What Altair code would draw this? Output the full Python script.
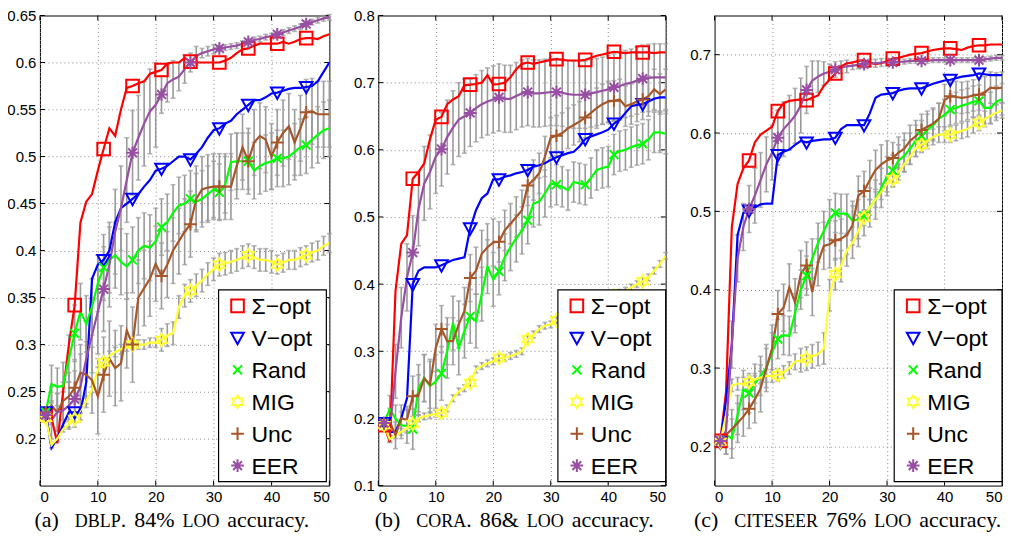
import altair as alt
import pandas as pd

X = list(range(1, 51))
METHODS = ["Σ−opt", "V−opt", "Rand", "MIG", "Unc", "EER"]
COLORS = ["#FF0000", "#0000FF", "#00FF00", "#FFFF33", "#A65628", "#984EA3"]
SHAPES = [
    "M-1,-1L1,-1L1,1L-1,1Z",
    "M-1,-0.8L1,-0.8L0,1Z",
    "M-0.7,-0.7L0.7,0.7M-0.7,0.7L0.7,-0.7",
    "M0,-1L0.289,-0.5L0.866,-0.5L0.577,0L0.866,0.5L0.289,0.5L0,1L-0.289,0.5L-0.866,0.5L-0.577,0L-0.866,-0.5L-0.289,-0.5Z",
    "M-1,0L1,0M0,-1L0,1",
    "M-1,0L1,0M0,-1L0,1M-0.7,-0.7L0.7,0.7M-0.7,0.7L0.7,-0.7",
]
X_TICKS = [0, 10, 20, 30, 40, 50]

# ---------------- panel (a) DBLP ----------------
a_sigma = [0.225, 0.222, 0.195, 0.25, 0.30, 0.342, 0.43, 0.452, 0.46, 0.485,
           0.508, 0.53, 0.522, 0.55, 0.573, 0.575, 0.578, 0.58, 0.588, 0.59,
           0.592, 0.599, 0.60, 0.60, 0.605, 0.601, 0.60, 0.60, 0.60, 0.60,
           0.60, 0.602, 0.605, 0.61, 0.614, 0.615, 0.618, 0.62, 0.62, 0.62,
           0.62, 0.622, 0.62, 0.622, 0.625, 0.626, 0.626, 0.625, 0.628, 0.63]
a_vopt = [0.228, 0.19, 0.20, 0.215, 0.228, 0.228, 0.228, 0.26, 0.37, 0.385,
          0.39, 0.40, 0.43, 0.445, 0.45, 0.455, 0.46, 0.468, 0.475, 0.485,
          0.487, 0.49, 0.495, 0.50, 0.50, 0.497, 0.503, 0.51, 0.52, 0.528,
          0.53, 0.535, 0.538, 0.545, 0.55, 0.555, 0.56, 0.56, 0.563, 0.567,
          0.568, 0.57, 0.572, 0.573, 0.573, 0.574, 0.575, 0.58, 0.59, 0.60]
a_rand = [0.228, 0.258, 0.255, 0.256, 0.285, 0.312, 0.335, 0.322, 0.34, 0.365,
          0.382, 0.39, 0.395, 0.388, 0.383, 0.39, 0.40, 0.405, 0.403, 0.41,
          0.425, 0.43, 0.44, 0.448, 0.45, 0.455, 0.452, 0.455, 0.46, 0.465,
          0.462, 0.47, 0.494, 0.495, 0.495, 0.495, 0.485, 0.49, 0.493, 0.495,
          0.498, 0.498, 0.50, 0.505, 0.51, 0.512, 0.518, 0.523, 0.528, 0.53]
a_mig = [0.222, 0.193, 0.20, 0.21, 0.215, 0.221, 0.23, 0.24, 0.252, 0.273,
         0.281, 0.288, 0.292, 0.295, 0.298, 0.30, 0.30, 0.30, 0.302, 0.302,
         0.305, 0.31, 0.312, 0.34, 0.352, 0.357, 0.363, 0.368, 0.375, 0.38,
         0.385, 0.386, 0.388, 0.39, 0.393, 0.395, 0.393, 0.39, 0.39, 0.388,
         0.385, 0.387, 0.39, 0.39, 0.393, 0.395, 0.398, 0.40, 0.405, 0.408]
a_unc = [0.228, 0.235, 0.228, 0.24, 0.245, 0.254, 0.27, 0.268, 0.262, 0.245,
         0.268, 0.285, 0.275, 0.28, 0.315, 0.30, 0.35, 0.36, 0.37, 0.386,
         0.373, 0.385, 0.40, 0.41, 0.42, 0.428, 0.455, 0.465, 0.467, 0.468,
         0.468, 0.468, 0.468, 0.49, 0.51, 0.495, 0.515, 0.522, 0.518, 0.50,
         0.515, 0.525, 0.532, 0.515, 0.53, 0.547, 0.548, 0.545, 0.545, 0.545]
a_eer = [0.225, 0.22, 0.228, 0.23, 0.235, 0.242, 0.255, 0.285, 0.31, 0.335,
         0.359, 0.385, 0.42, 0.445, 0.475, 0.504, 0.52, 0.535, 0.548, 0.555,
         0.566, 0.578, 0.582, 0.585, 0.593, 0.60, 0.607, 0.61, 0.612, 0.614,
         0.615, 0.616, 0.617, 0.618, 0.62, 0.622, 0.624, 0.625, 0.627, 0.628,
         0.63, 0.632, 0.634, 0.636, 0.638, 0.641, 0.643, 0.645, 0.647, 0.648]
a_err_rand = [0.005, 0.02, 0.02, 0.025, 0.025, 0.03, 0.03, 0.03, 0.03, 0.03,
              0.035, 0.035, 0.035, 0.035, 0.035, 0.035, 0.035, 0.035, 0.035, 0.035,
              0.03, 0.03, 0.03, 0.03, 0.03, 0.03, 0.03, 0.03, 0.03, 0.03,
              0.03, 0.03, 0.03, 0.03, 0.03, 0.03, 0.03, 0.03, 0.03, 0.03,
              0.03, 0.03, 0.03, 0.03, 0.03, 0.03, 0.03, 0.03, 0.03, 0.03]
a_err_unc = [0.005, 0.02, 0.02, 0.02, 0.025, 0.03, 0.03, 0.035, 0.035, 0.04,
             0.04, 0.04, 0.04, 0.04, 0.04, 0.04, 0.04, 0.04, 0.04, 0.04,
             0.035, 0.035, 0.035, 0.035, 0.035, 0.035, 0.035, 0.035, 0.035, 0.035,
             0.035, 0.035, 0.035, 0.035, 0.035, 0.035, 0.035, 0.035, 0.035, 0.035,
             0.035, 0.035, 0.035, 0.035, 0.035, 0.035, 0.035, 0.035, 0.035, 0.035]
a_err_mig = [0.003, 0.003, 0.003, 0.003, 0.003, 0.003, 0.003, 0.003, 0.003, 0.003,
             0.005, 0.005, 0.005, 0.005, 0.005, 0.005, 0.005, 0.005, 0.005, 0.005,
             0.012, 0.012, 0.012, 0.012, 0.012, 0.012, 0.012, 0.012, 0.012, 0.012,
             0.012, 0.012, 0.012, 0.012, 0.012, 0.012, 0.012, 0.012, 0.012, 0.012,
             0.01, 0.01, 0.01, 0.01, 0.01, 0.01, 0.01, 0.01, 0.01, 0.01]
a_err_eer = [0.005, 0.02, 0.02, 0.02, 0.025, 0.03, 0.035, 0.04, 0.04, 0.045,
             0.045, 0.045, 0.045, 0.045, 0.045, 0.045, 0.045, 0.045, 0.045, 0.045,
             0.02, 0.02, 0.02, 0.015, 0.015, 0.01, 0.01, 0.005, 0.005, 0.005,
             0.003, 0.003, 0.003, 0.003, 0.003, 0.003, 0.003, 0.003, 0.003, 0.003,
             0.003, 0.003, 0.003, 0.003, 0.003, 0.003, 0.003, 0.003, 0.003, 0.003]

# ---------------- panel (b) CORA ----------------
b_sigma = [0.19, 0.165, 0.39, 0.46, 0.473, 0.557, 0.567, 0.58, 0.616, 0.645,
           0.649, 0.668, 0.675, 0.68, 0.696, 0.697, 0.698, 0.70, 0.711, 0.697,
           0.698, 0.70, 0.708, 0.72, 0.728, 0.73, 0.728, 0.73, 0.732, 0.734,
           0.735, 0.734, 0.733, 0.733, 0.733, 0.734, 0.737, 0.74, 0.742, 0.744,
           0.746, 0.745, 0.744, 0.745, 0.745, 0.745, 0.745, 0.744, 0.745, 0.745]
b_vopt = [0.193, 0.18, 0.18, 0.20, 0.23, 0.40, 0.42, 0.425, 0.425, 0.425,
          0.428, 0.432, 0.436, 0.438, 0.44, 0.483, 0.51, 0.528, 0.535, 0.556,
          0.556, 0.56, 0.562, 0.565, 0.567, 0.57, 0.575, 0.577, 0.58, 0.585,
          0.589, 0.592, 0.595, 0.597, 0.605, 0.616, 0.62, 0.623, 0.626, 0.63,
          0.639, 0.645, 0.655, 0.665, 0.667, 0.668, 0.672, 0.676, 0.678, 0.678]
b_rand = [0.193, 0.214, 0.20, 0.19, 0.188, 0.184, 0.245, 0.26, 0.248, 0.255,
          0.267, 0.30, 0.342, 0.305, 0.33, 0.352, 0.345, 0.385, 0.426, 0.407,
          0.419, 0.44, 0.455, 0.468, 0.48, 0.495, 0.52, 0.523, 0.535, 0.55,
          0.548, 0.545, 0.54, 0.552, 0.55, 0.548, 0.558, 0.57, 0.573, 0.575,
          0.593, 0.598, 0.60, 0.604, 0.607, 0.609, 0.615, 0.626, 0.626, 0.624]
b_mig = [0.19, 0.169, 0.175, 0.18, 0.185, 0.192, 0.20, 0.203, 0.205, 0.207,
         0.208, 0.215, 0.23, 0.24, 0.245, 0.253, 0.273, 0.278, 0.282, 0.285,
         0.29, 0.29, 0.293, 0.296, 0.30, 0.318, 0.325, 0.333, 0.338, 0.34,
         0.346, 0.35, 0.352, 0.355, 0.36, 0.365, 0.368, 0.372, 0.375, 0.38,
         0.383, 0.387, 0.39, 0.395, 0.40, 0.404, 0.41, 0.42, 0.43, 0.442]
b_unc = [0.193, 0.195, 0.175, 0.20, 0.198, 0.233, 0.235, 0.26, 0.25, 0.305,
         0.333, 0.315, 0.315, 0.34, 0.36, 0.409, 0.42, 0.445, 0.455, 0.462,
         0.463, 0.48, 0.49, 0.50, 0.51, 0.547, 0.555, 0.565, 0.59, 0.618,
         0.621, 0.625, 0.632, 0.637, 0.642, 0.648, 0.655, 0.662, 0.668, 0.672,
         0.673, 0.675, 0.665, 0.668, 0.672, 0.675, 0.68, 0.69, 0.683, 0.69]
b_eer = [0.193, 0.18, 0.27, 0.35, 0.41, 0.447, 0.512, 0.55, 0.567, 0.59,
         0.601, 0.619, 0.633, 0.645, 0.65, 0.655, 0.662, 0.668, 0.672, 0.675,
         0.678, 0.676, 0.676, 0.68, 0.684, 0.686, 0.684, 0.684, 0.685, 0.686,
         0.686, 0.685, 0.683, 0.682, 0.682, 0.682, 0.684, 0.686, 0.688, 0.69,
         0.693, 0.695, 0.698, 0.70, 0.703, 0.706, 0.707, 0.708, 0.708, 0.708]
b_err_rand = [0.005, 0.02, 0.02, 0.02, 0.025, 0.03, 0.035, 0.035, 0.04, 0.04,
              0.04, 0.04, 0.04, 0.04, 0.04, 0.04, 0.04, 0.04, 0.04, 0.04,
              0.035, 0.035, 0.035, 0.035, 0.035, 0.035, 0.035, 0.035, 0.035, 0.035,
              0.03, 0.03, 0.03, 0.03, 0.03, 0.03, 0.03, 0.03, 0.03, 0.03,
              0.03, 0.03, 0.03, 0.03, 0.03, 0.03, 0.03, 0.03, 0.03, 0.03]
b_err_unc = [0.005, 0.02, 0.02, 0.02, 0.02, 0.03, 0.03, 0.035, 0.035, 0.035,
             0.035, 0.035, 0.035, 0.035, 0.035, 0.035, 0.035, 0.035, 0.035, 0.035,
             0.03, 0.03, 0.03, 0.03, 0.03, 0.03, 0.03, 0.03, 0.03, 0.03,
             0.03, 0.03, 0.03, 0.03, 0.03, 0.03, 0.03, 0.03, 0.03, 0.03,
             0.03, 0.03, 0.03, 0.03, 0.03, 0.03, 0.03, 0.03, 0.03, 0.03]
b_err_mig = [0.005, 0.005, 0.005, 0.005, 0.005, 0.005, 0.005, 0.005, 0.005, 0.005,
             0.005, 0.005, 0.005, 0.005, 0.005, 0.005, 0.005, 0.005, 0.005, 0.005,
             0.005, 0.005, 0.005, 0.005, 0.005, 0.005, 0.005, 0.005, 0.005, 0.005,
             0.005, 0.005, 0.005, 0.005, 0.005, 0.005, 0.005, 0.005, 0.005, 0.005,
             0.005, 0.005, 0.005, 0.005, 0.005, 0.005, 0.005, 0.005, 0.005, 0.005]
b_err_eer = [0.005, 0.015, 0.04, 0.045, 0.05, 0.055, 0.055, 0.055, 0.055, 0.055,
             0.055, 0.055, 0.055, 0.055, 0.055, 0.05, 0.05, 0.05, 0.05, 0.05,
             0.05, 0.05, 0.05, 0.05, 0.05, 0.05, 0.05, 0.05, 0.05, 0.05,
             0.05, 0.05, 0.05, 0.05, 0.05, 0.05, 0.05, 0.05, 0.05, 0.05,
             0.05, 0.05, 0.05, 0.05, 0.05, 0.05, 0.05, 0.05, 0.05, 0.05]

# ---------------- panel (c) CITESEER ----------------
c_sigma = [0.207, 0.27, 0.48, 0.535, 0.555, 0.565, 0.588, 0.598, 0.603, 0.608,
           0.628, 0.638, 0.641, 0.642, 0.643, 0.642, 0.645, 0.648, 0.66, 0.668,
           0.676, 0.685, 0.689, 0.69, 0.692, 0.693, 0.69, 0.688, 0.689, 0.692,
           0.695, 0.696, 0.698, 0.70, 0.701, 0.702, 0.704, 0.706, 0.707, 0.708,
           0.708, 0.707, 0.706, 0.709, 0.711, 0.712, 0.712, 0.713, 0.713, 0.713]
c_vopt = [0.205, 0.26, 0.33, 0.47, 0.498, 0.501, 0.505, 0.509, 0.51, 0.51,
          0.572, 0.576, 0.579, 0.585, 0.59, 0.588, 0.59, 0.591, 0.592, 0.592,
          0.594, 0.605, 0.61, 0.61, 0.61, 0.61, 0.625, 0.645, 0.649, 0.65,
          0.651, 0.654, 0.656, 0.657, 0.657, 0.657, 0.66, 0.663, 0.665, 0.667,
          0.668, 0.67, 0.672, 0.673, 0.674, 0.676, 0.675, 0.674, 0.674, 0.674]
c_rand = [0.207, 0.215, 0.21, 0.24, 0.272, 0.268, 0.28, 0.29, 0.30, 0.32,
          0.337, 0.342, 0.341, 0.37, 0.40, 0.418, 0.44, 0.46, 0.475, 0.49,
          0.498, 0.497, 0.497, 0.488, 0.49, 0.494, 0.505, 0.515, 0.53, 0.545,
          0.552, 0.565, 0.571, 0.58, 0.59, 0.596, 0.604, 0.61, 0.618, 0.623,
          0.63, 0.632, 0.635, 0.637, 0.64, 0.641, 0.632, 0.632, 0.64, 0.643]
c_mig = [0.206, 0.24, 0.278, 0.28, 0.28, 0.282, 0.285, 0.288, 0.29, 0.29,
         0.291, 0.295, 0.30, 0.308, 0.31, 0.312, 0.315, 0.318, 0.325, 0.393,
         0.42, 0.43, 0.45, 0.46, 0.475, 0.492, 0.505, 0.515, 0.525, 0.535,
         0.541, 0.55, 0.56, 0.57, 0.58, 0.585, 0.59, 0.595, 0.598, 0.598,
         0.598, 0.60, 0.603, 0.605, 0.61, 0.613, 0.618, 0.622, 0.626, 0.629]
c_unc = [0.207, 0.215, 0.222, 0.23, 0.238, 0.248, 0.26, 0.274, 0.30, 0.325,
         0.369, 0.377, 0.403, 0.384, 0.42, 0.431, 0.397, 0.435, 0.456, 0.458,
         0.463, 0.465, 0.47, 0.482, 0.52, 0.526, 0.54, 0.553, 0.56, 0.565,
         0.568, 0.575, 0.58, 0.59, 0.596, 0.604, 0.608, 0.612, 0.618, 0.642,
         0.647, 0.646, 0.645, 0.646, 0.648, 0.649, 0.652, 0.658, 0.657, 0.658]
c_eer = [0.207, 0.22, 0.33, 0.44, 0.48, 0.503, 0.52, 0.54, 0.56, 0.575,
         0.594, 0.605, 0.613, 0.622, 0.635, 0.655, 0.667, 0.672, 0.676, 0.678,
         0.681, 0.684, 0.685, 0.686, 0.687, 0.688, 0.689, 0.689, 0.69, 0.69,
         0.69, 0.691, 0.691, 0.692, 0.692, 0.692, 0.692, 0.693, 0.693, 0.693,
         0.693, 0.693, 0.693, 0.693, 0.693, 0.693, 0.694, 0.695, 0.696, 0.696]
c_err_rand = [0.008, 0.025, 0.025, 0.025, 0.025, 0.025, 0.025, 0.025, 0.025, 0.025,
              0.025, 0.025, 0.025, 0.025, 0.025, 0.025, 0.025, 0.025, 0.025, 0.025,
              0.025, 0.025, 0.025, 0.025, 0.025, 0.025, 0.025, 0.025, 0.025, 0.025,
              0.02, 0.02, 0.02, 0.02, 0.02, 0.02, 0.02, 0.02, 0.02, 0.02,
              0.02, 0.02, 0.02, 0.02, 0.02, 0.02, 0.02, 0.02, 0.02, 0.02]
c_err_unc = [0.008, 0.025, 0.025, 0.025, 0.025, 0.025, 0.03, 0.03, 0.03, 0.03,
             0.03, 0.03, 0.03, 0.03, 0.03, 0.03, 0.03, 0.03, 0.03, 0.03,
             0.025, 0.025, 0.025, 0.025, 0.025, 0.025, 0.025, 0.025, 0.025, 0.025,
             0.02, 0.02, 0.02, 0.02, 0.02, 0.02, 0.02, 0.02, 0.02, 0.02,
             0.02, 0.02, 0.02, 0.02, 0.02, 0.02, 0.02, 0.02, 0.02, 0.02]
c_err_mig = [0.005, 0.008, 0.008, 0.008, 0.008, 0.008, 0.008, 0.008, 0.008, 0.008,
             0.008, 0.008, 0.008, 0.01, 0.015, 0.015, 0.015, 0.015, 0.02, 0.02,
             0.02, 0.02, 0.02, 0.02, 0.02, 0.01, 0.01, 0.01, 0.01, 0.01,
             0.01, 0.01, 0.01, 0.01, 0.01, 0.01, 0.01, 0.01, 0.01, 0.01,
             0.01, 0.01, 0.01, 0.01, 0.01, 0.01, 0.01, 0.01, 0.01, 0.01]
c_err_eer = [0.008, 0.02, 0.03, 0.03, 0.03, 0.03, 0.035, 0.035, 0.035, 0.035,
             0.035, 0.035, 0.035, 0.035, 0.035, 0.03, 0.025, 0.02, 0.015, 0.01,
             0.01, 0.008, 0.008, 0.005, 0.005, 0.005, 0.005, 0.005, 0.005, 0.005,
             0.003, 0.003, 0.003, 0.003, 0.003, 0.003, 0.003, 0.003, 0.003, 0.003,
             0.003, 0.003, 0.003, 0.003, 0.003, 0.003, 0.003, 0.003, 0.003, 0.003]

CAPTION_A = [("(a)", False), ("DBLP", True), (".", False), ("84%", False), ("LOO", True), ("accuracy.", False)]
CAPTION_B = [("(b)", False), ("CORA", True), (".", False), ("86&", False), ("LOO", True), ("accuracy.", False)]
CAPTION_C = [("(c)", False), ("CITESEER", True), ("76%", False), ("LOO", True), ("accuracy.", False)]

GRAY = "#9a9a9a"
PLOT_H = 471
MAIN_FS = 22
SC_FS = 18

# Times / Liberation Serif advance widths (1/1000 em), for laying out caption pieces
TW = {"(": 333, ")": 333, "a": 444, "b": 500, "c": 444, "u": 500, "r": 333, "y": 500,
      ".": 250, "%": 833, "&": 778, " ": 250, "D": 722, "B": 667, "L": 611, "P": 556,
      "O": 722, "C": 667, "R": 667, "A": 722, "I": 333, "T": 611, "S": 556, "E": 611}
for d in "0123456789":
    TW[d] = 500


def tw(s, fs):
    return sum(TW.get(ch, 500) for ch in s) * fs / 1000.0


def caption_layers(pieces, center):
    pos = []
    x = 0.0
    for i, (txt, small) in enumerate(pieces):
        if i == 1:
            x += 16
        elif i > 1 and txt != ".":
            x += 8
        fs = SC_FS if small else MAIN_FS
        pos.append((txt, fs, x))
        x += tw(txt, fs)
    start = center - x / 2.0
    out = []
    for txt, fs, px in pos:
        out.append(alt.Chart(pd.DataFrame({"t": [txt]})).mark_text(
            align="left", baseline="alphabetic", font="Liberation Serif",
            fontSize=fs, color="black").encode(
            x=alt.value(start + px), y=alt.value(PLOT_H + 42), text="t:N"))
    return out


def legend_layers(width, right_off):
    bw, bh = 108, 192
    x0 = width - right_off - bw
    y0 = PLOT_H - 4 - bh
    out = [alt.Chart(pd.DataFrame({"a": [0]})).mark_rect(
        fill="white", stroke="black", strokeWidth=1.2).encode(
        x=alt.value(x0), x2=alt.value(x0 + bw), y=alt.value(y0), y2=alt.value(y0 + bh))]
    for i, (m, c, s) in enumerate(zip(METHODS, COLORS, SHAPES)):
        cy = y0 + 16 + 32 * i
        out.append(alt.Chart(pd.DataFrame({"t": [m]})).mark_point(
            shape=s, filled=False, color=c, size=160, strokeWidth=2, opacity=1).encode(
            x=alt.value(x0 + 19), y=alt.value(cy)))
        out.append(alt.Chart(pd.DataFrame({"t": [m]})).mark_text(
            align="left", baseline="middle", font="Liberation Sans", fontSize=23,
            color="black").encode(x=alt.value(x0 + 33), y=alt.value(cy + 1), text="t:N"))
    return out


def make_panel(series, errs, ydom, yticks, yfmt, width, caption, cap_center, leg_off):
    rows = []
    for m, vals in zip(METHODS, series):
        for xi, v in zip(X, vals):
            rows.append({"x": xi, "method": m, "acc": v})
    df = pd.DataFrame(rows)
    mk = df[(df["x"] - 1) % 5 == 0]
    erows = []
    for m, e in errs.items():
        vals = series[METHODS.index(m)]
        for xi, v, h in zip(X, vals, e):
            erows.append({"x": xi, "lo": v - h, "hi": v + h})
    edf = pd.DataFrame(erows)

    xs = alt.Scale(domain=[0, 50], nice=False, zero=False)
    ys = alt.Scale(domain=ydom, nice=False, zero=False)
    xax = alt.Axis(values=X_TICKS, title=None, format="d")
    yax = alt.Axis(values=yticks, title=None, format=yfmt)
    xenc = alt.X("x:Q", scale=xs, axis=xax)

    # inward tick marks on all four sides (MATLAB box style)
    ydf = pd.DataFrame({"v": yticks})
    xdf = pd.DataFrame({"v": X_TICKS})
    tk = []
    for a, b in ((0, 5), (width - 5, width)):
        tk.append(alt.Chart(ydf).mark_rule(color="black", strokeWidth=1).encode(
            y=alt.Y("v:Q", scale=ys, axis=yax), x=alt.value(a), x2=alt.value(b)))
    for a, b in ((0, 5), (PLOT_H - 5, PLOT_H)):
        tk.append(alt.Chart(xdf).mark_rule(color="black", strokeWidth=1).encode(
            x=alt.X("v:Q", scale=xs, axis=xax), y=alt.value(a), y2=alt.value(b)))

    rules = alt.Chart(edf).mark_rule(color=GRAY, strokeWidth=1.6).encode(
        x=xenc, y=alt.Y("lo:Q", scale=ys, axis=yax), y2="hi:Q")
    cap_lo = alt.Chart(edf).mark_tick(color=GRAY, orient="horizontal", size=5, thickness=1.6).encode(
        x=xenc, y=alt.Y("lo:Q", scale=ys, axis=yax))
    cap_hi = alt.Chart(edf).mark_tick(color=GRAY, orient="horizontal", size=5, thickness=1.6).encode(
        x=xenc, y=alt.Y("hi:Q", scale=ys, axis=yax))

    cscale = alt.Scale(domain=METHODS, range=COLORS)
    sscale = alt.Scale(domain=METHODS, range=SHAPES)
    lines = alt.Chart(df).mark_line(strokeWidth=2.2, clip=True).encode(
        x=xenc, y=alt.Y("acc:Q", scale=ys, axis=yax),
        stroke=alt.Stroke("method:N", scale=cscale, legend=None))
    pts = alt.Chart(mk).mark_point(filled=False, strokeWidth=2, size=160, opacity=1, clip=True).encode(
        x=xenc, y=alt.Y("acc:Q", scale=ys, axis=yax),
        color=alt.Color("method:N", scale=cscale, legend=None),
        shape=alt.Shape("method:N", scale=sscale, legend=None))

    layers = tk + [rules, cap_lo, cap_hi, lines, pts]
    layers += legend_layers(width, leg_off)
    layers += caption_layers(caption, cap_center)
    return alt.layer(*layers).properties(width=width, height=PLOT_H)


pa = make_panel([a_sigma, a_vopt, a_rand, a_mig, a_unc, a_eer],
                {"MIG": a_err_mig, "Rand": a_err_rand, "Unc": a_err_unc, "EER": a_err_eer},
                [0.15, 0.65], [0.2, 0.25, 0.3, 0.35, 0.4, 0.45, 0.5, 0.55, 0.6, 0.65], ".2~f",
                290, CAPTION_A, 133, 3)
pb = make_panel([b_sigma, b_vopt, b_rand, b_mig, b_unc, b_eer],
                {"MIG": b_err_mig, "Rand": b_err_rand, "Unc": b_err_unc, "EER": b_err_eer},
                [0.1, 0.8], [0.1, 0.2, 0.3, 0.4, 0.5, 0.6, 0.7, 0.8], ".1f",
                288, CAPTION_B, 137, 0)
pc = make_panel([c_sigma, c_vopt, c_rand, c_mig, c_unc, c_eer],
                {"MIG": c_err_mig, "Rand": c_err_rand, "Unc": c_err_unc, "EER": c_err_eer},
                [0.15, 0.75], [0.2, 0.3, 0.4, 0.5, 0.6, 0.7], ".1f",
                288, CAPTION_C, 134, 0)

chart = alt.hconcat(pa, pb, pc, spacing=49, bounds="flush").resolve_scale(
    color="independent", shape="independent", stroke="independent").configure_view(
    stroke="black", strokeWidth=1).configure_axis(
    labelFont="Liberation Sans", labelFontSize=15, labelColor="black",
    ticks=False, domain=False, labelPadding=4,
    grid=True, gridColor="#8a8a8a", gridDash=[1, 3], gridWidth=1, gridOpacity=1).properties(
    padding={"left": -2, "top": -1, "right": 0, "bottom": 0})

chart.save("out.html", embed_options={"renderer": "svg", "actions": False})
